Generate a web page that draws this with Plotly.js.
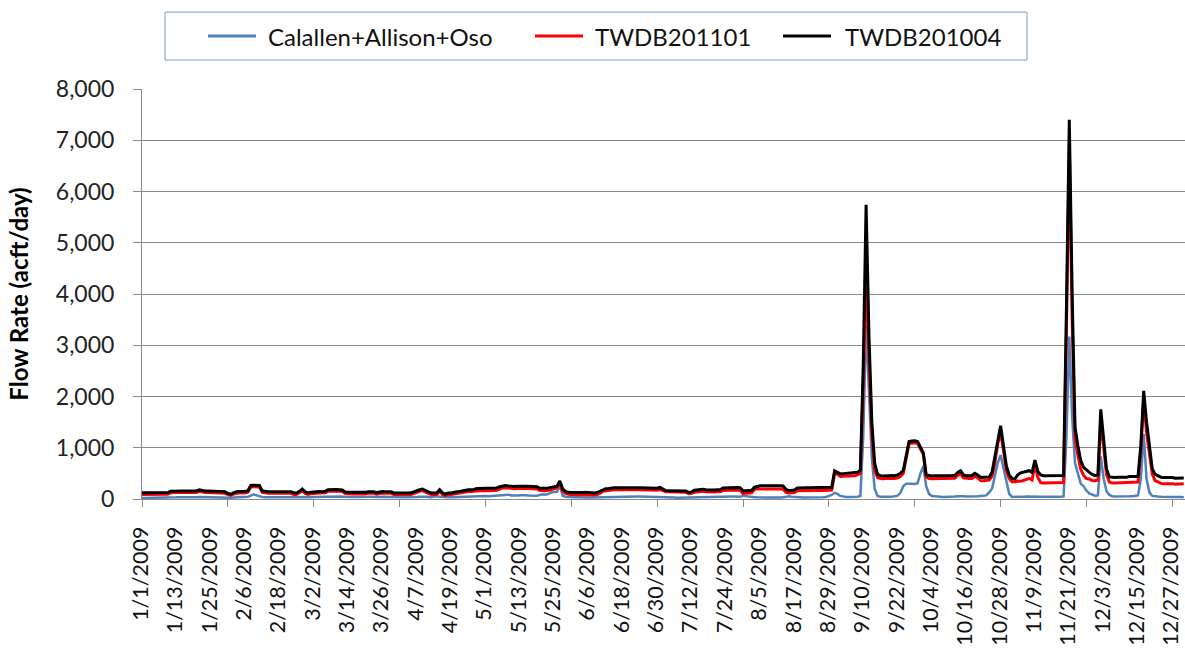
<!DOCTYPE html>
<html>
<head>
<meta charset="utf-8">
<script src="https://cdn.plot.ly/plotly-3.0.1.min.js"></script>
<style>html,body{margin:0;padding:0;background:#fff;}#chart{width:1185px;height:654px;}</style>
</head>
<body>
<div id="chart"></div>
<script>
// ---------- DATA (daily values, 2009, acft/day) ----------
const startYear = 2009;
const seriesNames = ["Calallen+Allison+Oso", "TWDB201101", "TWDB201004"];
const seriesColors = ["#4F81BD", "#FF0000", "#000000"];

const calallen = [
  // Jan
  20,20,20,20,20,20,20,20,22,25, 30,32,32,35,33,32,35,33,32,35, 40,38,35,33,32,35,33,32,30,28, 25,
  // Feb
  25,30,32,35,35,38,45, 65,90,70,50, 40,35,33,32,35,33,32,30,32,35,33, 30,28,32,40,35,30,
  // Mar
  35,38,40,42,40,45, 50,55,50,52,48,45, 40,38,36,38,40,38,36,38, 42,45,40,35,40,45,42,45,40, 35,33,
  // Apr
  33,32,35,33,35, 38,40,45,50,42, 38,35,50,55, 45, 38,32,35,36, 38,40,42,45, 48,50,55,60, 65,62,60,
  // May
  58,55,60,62,65, 70,80,91,85, 70,65,68,72,78,75,70,65,68,65, 80,91,85,100, 130,135,140, 260, 65,45,38,35,
  // Jun
  33,32,35,33,32,30,30,32,33,35, 38,40,42,45, 45,42,40,42,45,48,52,52,50,48,45,42,40,38,36,35,
  // Jul
  35,33, 30,28,28,27,26,28,27,26, 26,27, 28,30,32,33,35,36,38,40,42,45, 52,55,52,50,48,45,42, 65,55,
  // Aug
  45,40, 35,32,30,30,28,28,27,27,28,30,32, 40,52,45,38, 32,30,28,28,27,26,28,30,32,35,40,55,80, 120,
  // Sep
  100,60,45,40,38,38,40, 45,60, 1200,3400,2000,800,200, 60,45,40,40,42,45,50,65,120, 250,300, 305,300,295,310, 500,
  // Oct
  640,250, 100,60,50,45,42,40,40,42,45,50, 55,60, 55,50,48,45, 50,55, 60,62,70,130, 200,450,700, 857, 600,300,100,
  // Nov
  40,38, 40,42,45,48,50,48, 55,50, 45,42,40,40,38,40,42,45,50, 1200,3170,1600, 700,500,300,250, 160,110,90,65,
  // Dec
  70, 831,400,150,80, 55,50,48,50,48,50,52,55,60,70, 390, 1266, 390,130,60,50,48, 45,42,40,40,38,38,40,38,36
];

const twdb201101 = [
  // Jan
  90,90,88,90,92,90,88,90,92,95, 120,125,125,126,125,125,128,126,125,128, 150,135,128,126,125,127,125,126,120,110, 85,
  // Feb
  70,95,113,115,113,115,130, 235,240,238,235, 130,115,113,112,113,114,113,112,110,113,112, 90,88,120,165,110,87,
  // Mar
  100,110,113,115,113,120, 150,155,152,155,150,145, 105,100,98,100,102,100,98,100, 113,115,110,95,110,115,113,115,110, 88,85,
  // Apr
  87,85,88,87,90, 113,130,150,165,130, 110,88,85,90, 150, 90,65,85,88, 100,110,113,125, 140,145,145,150, 165,163,165,
  // May
  163,160,165,168,170, 200,215,220,212, 205,200,205,203,196,205,207,200,203,196, 165,160,163,170, 185,188,215, 292, 150,110,92,90,
  // Jun
  88,92,95,90,92,88,82,80,88,110, 150,160,165,175, 180,180,182,180,178,180,182,180,181,180,178,180,182,180,175,170,
  // Jul
  185,160, 143,140,140,138,140,138,135,130, 105,110, 130,135,138,150,140,136,135,138,140,142, 165,170,172,168,170,175,171, 104,110,
  // Aug
  115,120, 190,200,195,197,200,198,195,197,200,197,192, 130,117,115,125, 163,165,167,165,163,165,167,165,166,165,163,170,175, 500,
  // Sep
  480,440,445,448,446,448,452, 470,500, 2200,4500,2800,1300,560, 420,400,395,405,400,402,400,415,440, 500,780, 1080,1090,1095,1080, 960,
  // Oct
  870,430, 400,395,400,402,400,398,400,400,402,405, 460,490, 415,400,400,402, 440,415, 360,358,362,368, 440,700,1080, 1300, 950,560,400,
  // Nov
  335,330, 350,345,360,380,400,370, 680,420, 320,310,310,312,308,310,310,312,320, 3300,6900,3500, 1200,850,580,460, 400,390,360,357,
  // Dec
  370, 1550,1000,480,330, 312,310,312,315,310,312,320,325,320,330, 950, 1950, 1300,900,480,360,330, 305,300,302,298,300,290,295,292,296
];

const twdb201004 = [
  // Jan
  120,120,118,120,122,120,118,120,122,125, 150,155,155,156,155,155,158,156,155,158, 180,165,158,156,155,157,155,156,150,140, 110,
  // Feb
  95,120,143,145,143,145,160, 265,270,268,265, 160,145,143,142,143,144,143,142,140,143,142, 120,118,150,195,140,117,
  // Mar
  130,140,143,145,143,150, 180,185,182,185,180,175, 135,130,128,130,132,130,128,130, 143,145,140,125,140,145,143,145,140, 118,115,
  // Apr
  117,115,118,117,120, 143,160,180,195,160, 140,118,115,120, 182, 120,95,115,118, 135,143,145,160, 178,182,180,185, 205,208,210,
  // May
  208,206,210,212,215, 240,258,262,255, 248,245,250,247,240,248,250,245,247,240, 210,205,208,215, 228,230,250, 350, 195,150,130,128,
  // Jun
  125,130,132,128,130,125,120,118,125,150, 190,200,205,215, 220,220,222,220,218,220,222,220,221,220,218,220,222,220,215,210,
  // Jul
  225,200, 165,163,162,160,163,160,158,155, 130,135, 170,175,178,190,180,176,175,178,180,182, 215,220,222,218,220,225,221, 160,163,
  // Aug
  165,170, 230,250,258,260,262,260,258,260,262,260,255, 190,160,165,175, 215,220,222,220,218,220,222,220,221,220,218,225,228, 550,
  // Sep
  520,490,495,500,498,500,505, 520,560, 2600,5740,3200,1500,700, 480,455,450,460,455,458,455,470,500, 560,850, 1120,1130,1135,1120, 1000,
  // Oct
  900,470, 455,450,455,458,455,452,455,455,458,460, 520,552, 470,455,455,458, 500,470, 422,420,425,430, 520,800,1150, 1430, 1040,650,470,
  // Nov
  400,390, 470,510,520,540,552,520, 760,540, 470,455,455,455,452,455,455,455,460, 3700,7400,4000, 1400,1040,750,617, 560,520,480,455,
  // Dec
  470, 1750,1170,584,430, 422,420,422,425,420,422,440,440,435,440, 1040, 2110, 1500,1040,584,480,455, 425,420,422,418,420,405,410,408,412
];

// ---------- categories: every day of the year ----------
const dayCount = 365;
const dates = [];
for (let i = 0; i < dayCount; i++) {
  const dt = new Date(Date.UTC(startYear, 0, 1 + i));
  dates.push((dt.getUTCMonth() + 1) + "/" + dt.getUTCDate() + "/" + dt.getUTCFullYear());
}
const dayIndex = dates.map((_, i) => i);
const labelEvery = 12;
const tickEvery = 30;
const labelVals = dayIndex.filter(i => i % labelEvery === 0);
const labelText = labelVals.map(i => dates[i]);
const tickVals = dayIndex.filter(i => i % tickEvery === 0);

const allSeries = [calallen, twdb201101, twdb201004];
const lineWidths = [2.5, 3, 3];
const FONT = "Lato, Carlito, Calibri, 'DejaVu Sans', sans-serif";
const GRID = "#8a8a8a";

// black series sits on the overlay axis x2 (same range) so that its tick marks are drawn
const traces = allSeries.map((vals, k) => ({
  type: "scatter",
  mode: "lines",
  name: seriesNames[k],
  x: dayIndex,
  y: vals,
  xaxis: k === 2 ? "x2" : "x",
  yaxis: "y",
  text: dates,
  hovertemplate: "%{text}: %{y:,}<extra>" + seriesNames[k] + "</extra>",
  line: { color: seriesColors[k], width: lineWidths[k] },
  showlegend: false
}));

const plotLeft = 142, plotRight = 1185, plotTop = 89, plotBottom = 499.5;
const plotW = plotRight - plotLeft, plotH = plotBottom - plotTop;
const pxPerDay = 2.862;
const xMax = plotW / pxPerDay;
const px = v => (v - plotLeft) / plotW;      // pixel -> paper x
const py = v => (plotBottom - v) / plotH;    // pixel -> paper y

let dbg = "";
allSeries.forEach((s, k) => { if (s.length !== dayCount) dbg += seriesNames[k] + "=" + s.length + " "; });

// ---------- legend (boxed, one row, at top) ----------
const legendBox = { x0: 165, x1: 1027, y0: 12, y1: 60 };
const legendItems = [
  { lineX: 208, textX: 266 },
  { lineX: 535, textX: 593 },
  { lineX: 783, textX: 843 }
];
const legendY = 36;
const shapes = [{
  type: "rect", xref: "paper", yref: "paper",
  x0: px(legendBox.x0), x1: px(legendBox.x1), y0: py(legendBox.y1), y1: py(legendBox.y0),
  line: { color: "#7f9cc4", width: 1 }, fillcolor: "rgba(0,0,0,0)"
}];
const annotations = [];
legendItems.forEach((it, k) => {
  shapes.push({
    type: "line", xref: "paper", yref: "paper",
    x0: px(it.lineX), x1: px(it.lineX + 48), y0: py(legendY), y1: py(legendY),
    line: { color: seriesColors[k], width: 3 }
  });
  annotations.push({
    xref: "paper", yref: "paper", x: px(it.textX), y: py(legendY),
    xanchor: "left", yanchor: "middle", showarrow: false,
    text: seriesNames[k], font: { family: FONT, size: 24, color: "#111" }
  });
});

const layout = {
  width: 1185,
  height: 654,
  margin: { l: plotLeft, r: 0, t: plotTop, b: 654 - plotBottom },
  paper_bgcolor: "#ffffff",
  plot_bgcolor: "#ffffff",
  font: { family: FONT, color: "#1a1a1a", size: 22 },
  title: { text: dbg },
  showlegend: false,
  shapes: shapes,
  annotations: annotations,
  xaxis: {
    range: [0, xMax],
    tickmode: "array",
    tickvals: labelVals,
    ticktext: labelText,
    tickangle: -90,
    ticks: "",
    ticklabelstandoff: 18,
    ticklabelshift: -1,
    ticklabeloverflow: "allow",
    tickfont: { family: FONT, size: 21.5, color: "#111" },
    showgrid: false,
    zeroline: false,
    showline: true,
    linecolor: GRID,
    linewidth: 1,
    automargin: false
  },
  xaxis2: {
    overlaying: "x",
    anchor: "y",
    side: "bottom",
    range: [0, xMax],
    tickmode: "array",
    tickvals: tickVals,
    ticks: "outside",
    ticklen: 7,
    tickcolor: GRID,
    tickwidth: 1,
    showticklabels: false,
    showgrid: false,
    zeroline: false,
    showline: false,
    automargin: false
  },
  yaxis: {
    range: [0, 8000],
    dtick: 1000,
    tickformat: ",d",
    ticks: "outside",
    ticklen: 8,
    tickcolor: GRID,
    ticklabelstandoff: 14,
    tickfont: { family: FONT, size: 23, color: "#222" },
    showgrid: true,
    gridcolor: GRID,
    gridwidth: 1,
    zeroline: false,
    showline: true,
    linecolor: GRID,
    linewidth: 1,
    automargin: false,
    title: { text: "<b>Flow Rate (acft/day)</b>", font: { family: FONT, size: 24, color: "#000" }, standoff: 20 }
  },
  hovermode: "closest"
};

Plotly.newPlot("chart", traces, layout, { displayModeBar: false });
</script>
</body>
</html>
